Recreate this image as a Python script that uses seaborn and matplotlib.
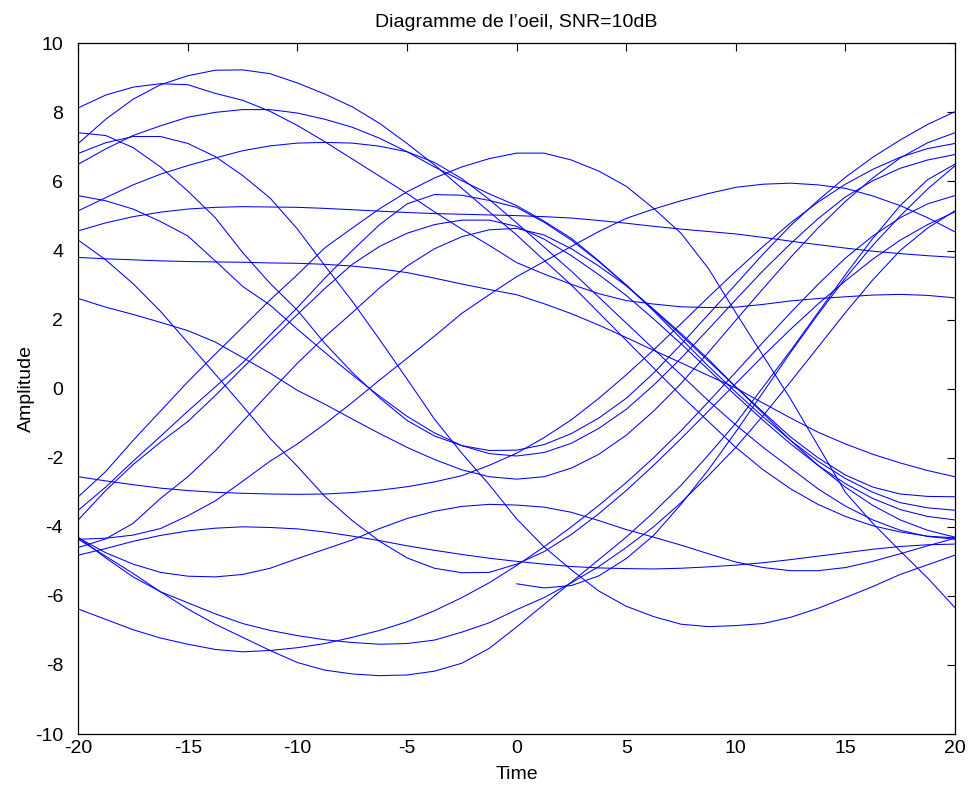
import matplotlib
matplotlib.use("Agg")
import matplotlib.pyplot as plt
import pandas as pd
import seaborn as sns

# sample times shared by the full traces
t = [-20, -18.75, -17.5, -16.25, -15, -13.75, -12.5, -11.25, -10, -8.75, -7.5, -6.25, -5,
     -3.75, -2.5, -1.25, 0, 1.25, 2.5, 3.75, 5, 6.25, 7.5, 8.75, 10, 11.25, 12.5, 13.75,
     15, 16.25, 17.5, 18.75, 20]

# eye diagram traces (amplitude at each time in t)
tr_a = [8.13, 8.50, 8.73, 8.83, 8.80, 8.55, 8.35, 8.03, 7.62, 7.15, 6.65, 6.15, 5.65, 5.12, 4.62, 4.15, 3.65,
        3.32, 3.02, 2.75, 2.55, 2.45, 2.37, 2.35, 2.36, 2.44, 2.54, 2.61, 2.66, 2.71, 2.73, 2.70, 2.63]
tr_b = [7.10, 7.80, 8.38, 8.80, 9.06, 9.22, 9.23, 9.12, 8.85, 8.53, 8.16, 7.68, 7.10, 6.48, 5.80, 5.12, 4.45,
        3.72, 3.00, 2.20, 1.40, 0.60, -0.20, -0.95, -1.70, -2.35, -2.90, -3.35, -3.70, -3.97, -4.15, -4.27, -4.32]
tr_c = [6.50, 6.94, 7.33, 7.61, 7.86, 8.00, 8.08, 8.08, 7.98, 7.80, 7.57, 7.25, 6.86, 6.42, 6.02, 5.64, 5.30,
        4.85, 4.35, 3.70, 3.00, 2.25, 1.45, 0.65, -0.10, -0.82, -1.50, -2.10, -2.60, -3.00, -3.30, -3.45, -3.52]
tr_d = [5.15, 5.53, 5.90, 6.21, 6.46, 6.68, 6.89, 7.03, 7.11, 7.13, 7.11, 7.02, 6.86, 6.55, 6.08, 5.48, 4.80,
        4.10, 3.40, 2.65, 1.90, 1.15, 0.40, -0.35, -1.05, -1.70, -2.30, -2.90, -3.40, -3.80, -4.10, -4.28, -4.36]
tr_e = [6.81, 7.12, 7.30, 7.30, 7.10, 6.72, 6.17, 5.52, 4.62, 3.56, 2.53, 1.42, 0.28, -0.88, -1.87, -2.78, -3.77,
        -4.58, -5.25, -5.86, -6.30, -6.60, -6.82, -6.89, -6.86, -6.80, -6.62, -6.36, -6.05, -5.73, -5.38, -5.10, -4.82]
tr_f = [7.41, 7.33, 6.98, 6.42, 5.72, 4.95, 3.94, 3.05, 2.27, 1.31, 0.47, -0.27, -0.92, -1.37, -1.65, -1.79, -1.78,
        -1.62, -1.30, -0.85, -0.28, 0.45, 1.28, 2.15, 3.02, 3.90, 4.72, 5.45, 6.12, 6.70, 7.20, 7.65, 8.02]
tr_g = [5.59, 5.44, 5.20, 4.84, 4.42, 3.70, 2.96, 2.42, 1.72, 1.05, 0.40, -0.22, -0.80, -1.28, -1.65, -1.88, -1.95,
        -1.85, -1.58, -1.15, -0.60, 0.10, 0.88, 1.72, 2.58, 3.42, 4.20, 4.92, 5.55, 6.02, 6.38, 6.62, 6.78]
tr_h = [4.57, 4.80, 4.98, 5.11, 5.20, 5.25, 5.27, 5.26, 5.25, 5.22, 5.18, 5.14, 5.10, 5.07, 5.05, 5.03, 5.01,
        4.98, 4.94, 4.87, 4.79, 4.70, 4.62, 4.55, 4.48, 4.38, 4.27, 4.17, 4.07, 3.98, 3.91, 3.85, 3.80]
tr_i = [4.30, 3.73, 3.04, 2.24, 1.33, 0.42, -0.50, -1.44, -2.25, -3.12, -3.82, -4.42, -4.90, -5.20, -5.33, -5.32, -5.08,
        -4.72, -4.22, -3.62, -2.95, -2.22, -1.45, -0.65, 0.15, 0.95, 1.72, 2.45, 3.12, 3.75, 4.30, 4.75, 5.12]
tr_j = [3.80, 3.76, 3.73, 3.70, 3.68, 3.67, 3.66, 3.64, 3.63, 3.60, 3.55, 3.47, 3.36, 3.20, 3.03, 2.87, 2.72,
        2.46, 2.17, 1.84, 1.48, 1.11, 0.75, 0.38, 0.02, -0.42, -0.85, -1.26, -1.60, -1.90, -2.15, -2.37, -2.55]
tr_k = [2.61, 2.36, 2.15, 1.92, 1.68, 1.35, 0.90, 0.45, -0.05, -0.45, -0.88, -1.30, -1.70, -2.05, -2.35, -2.55, -2.62,
        -2.55, -2.30, -1.90, -1.35, -0.65, 0.15, 1.05, 1.98, 2.90, 3.80, 4.65, 5.42, 6.10, 6.68, 7.12, 7.41]
tr_l = [-2.55, -2.67, -2.78, -2.88, -2.95, -3.00, -3.03, -3.05, -3.06, -3.05, -3.01, -2.94, -2.84, -2.70, -2.52, -2.22, -1.87,
        -1.42, -0.90, -0.28, 0.40, 1.12, 1.88, 2.65, 3.40, 4.12, 4.80, 5.40, 5.92, 6.35, 6.70, 6.95, 7.10]
tr_m = [-3.13, -2.40, -1.50, -0.65, 0.20, 1.00, 1.78, 2.57, 3.30, 4.08, 4.65, 5.21, 5.70, 6.10, 6.42, 6.66, 6.82,
        6.82, 6.62, 6.30, 5.86, 5.22, 4.50, 3.48, 2.20, 0.95, -0.30, -1.65, -3.00, -3.90, -4.70, -5.48, -6.34]
tr_n = [-3.52, -2.85, -2.10, -1.38, -0.65, 0.05, 0.75, 1.55, 2.35, 3.20, 4.00, 4.75, 5.35, 5.62, 5.60, 5.45, 5.25,
        4.82, 4.30, 3.68, 3.00, 2.28, 1.55, 0.80, 0.05, -0.68, -1.40, -2.00, -2.50, -2.85, -3.05, -3.12, -3.13]
tr_o = [-3.80, -2.95, -2.20, -1.55, -0.95, -0.20, 0.60, 1.38, 2.15, 2.90, 3.60, 4.12, 4.50, 4.75, 4.88, 4.88, 4.70,
        4.33, 3.85, 3.30, 2.70, 2.02, 1.30, 0.55, -0.20, -0.92, -1.60, -2.22, -2.75, -3.18, -3.50, -3.70, -3.80]
tr_p = [-4.60, -4.35, -3.90, -3.18, -2.55, -1.80, -0.95, -0.10, 0.74, 1.50, 2.20, 2.92, 3.55, 4.05, 4.40, 4.60, 4.64,
        4.45, 4.05, 3.55, 2.98, 2.30, 1.60, 0.85, 0.05, -0.72, -1.50, -2.22, -2.85, -3.38, -3.80, -4.10, -4.30]
tr_q = [-4.36, -4.33, -4.24, -4.05, -3.68, -3.25, -2.68, -2.10, -1.60, -1.02, -0.40, 0.25, 0.88, 1.52, 2.18, 2.72, 3.24,
        3.68, 4.12, 4.55, 4.93, 5.20, 5.44, 5.65, 5.83, 5.92, 5.95, 5.90, 5.80, 5.58, 5.30, 4.95, 4.54]
tr_r = [-4.32, -4.75, -5.08, -5.32, -5.43, -5.45, -5.38, -5.20, -4.92, -4.65, -4.38, -4.05, -3.76, -3.55, -3.41, -3.35, -3.37,
        -3.43, -3.58, -3.82, -4.08, -4.30, -4.53, -4.78, -5.02, -5.18, -5.27, -5.27, -5.18, -5.00, -4.78, -4.55, -4.33]
tr_s = [-4.82, -4.63, -4.42, -4.25, -4.12, -4.04, -4.00, -4.02, -4.06, -4.15, -4.27, -4.40, -4.55, -4.68, -4.80, -4.91, -5.00,
        -5.08, -5.15, -5.19, -5.21, -5.22, -5.20, -5.16, -5.11, -5.04, -4.95, -4.85, -4.75, -4.65, -4.57, -4.52, -4.50]
tr_u = [-6.38, -6.68, -6.98, -7.22, -7.40, -7.55, -7.62, -7.58, -7.50, -7.38, -7.20, -7.00, -6.75, -6.43, -6.05, -5.62, -5.12,
        -4.58, -4.00, -3.38, -2.72, -2.00, -1.22, -0.38, 0.48, 1.35, 2.20, 3.02, 3.78, 4.42, 4.95, 5.35, 5.59]
tr_v = [-4.36, -4.85, -5.35, -5.88, -6.38, -6.82, -7.20, -7.58, -7.93, -8.15, -8.26, -8.31, -8.29, -8.18, -7.95, -7.52, -6.90,
        -6.25, -5.60, -4.95, -4.30, -3.58, -2.80, -1.92, -1.00, 0.05, 1.10, 2.20, 3.30, 4.35, 5.30, 6.05, 6.50]
tr_w = [-4.30, -4.90, -5.45, -5.88, -6.20, -6.52, -6.80, -7.00, -7.15, -7.27, -7.35, -7.40, -7.38, -7.28, -7.05, -6.78, -6.40,
        -6.05, -5.62, -5.15, -4.60, -4.00, -3.30, -2.52, -1.70, -0.78, 0.20, 1.20, 2.20, 3.15, 4.00, 4.65, 5.15]

# the first trace only starts at t=0
t_first = [0, 1.25, 2.5, 3.75, 5, 6.25, 7.5, 8.75, 10, 11.25, 12.5, 13.75, 15, 16.25, 17.5, 18.75, 20]
tr_first = [-5.65, -5.77, -5.70, -5.42, -4.92, -4.25, -3.35, -2.35, -1.25, -0.10, 1.05, 2.15, 3.20, 4.15, 5.00, 5.78, 6.45]

traces = [tr_a, tr_b, tr_c, tr_d, tr_e, tr_f, tr_g, tr_h, tr_i, tr_j, tr_k, tr_l,
          tr_m, tr_n, tr_o, tr_p, tr_q, tr_r, tr_s, tr_u, tr_v, tr_w]

rows = []
for k, tr in enumerate(traces):
    for x, y in zip(t, tr):
        rows.append((k, x, y))
for x, y in zip(t_first, tr_first):
    rows.append((len(traces), x, y))
df = pd.DataFrame(rows, columns=["trace", "Time", "Amplitude"])

sns.set_style("white")
plt.rcParams["font.family"] = ["Liberation Sans", "DejaVu Sans"]
plt.rcParams["axes.unicode_minus"] = False
plt.rcParams["text.color"] = "black"
plt.rcParams["axes.labelcolor"] = "black"

fig = plt.figure(figsize=(9.7, 7.87), dpi=100)
ax = fig.add_axes([0.0807, 0.0673, 0.9038, 0.8777])

sns.lineplot(data=df, x="Time", y="Amplitude", units="trace", estimator=None,
             color="#0000ff", linewidth=0.75, sort=False, ax=ax)

ax.set_xlim(-20, 20)
ax.set_ylim(-10, 10)
ax.set_xticks(range(-20, 21, 5))
ax.set_yticks(range(-10, 11, 2))
ax.tick_params(direction="in", length=6, width=0.8, top=True, right=True,
               labelsize=14, colors="black")
ax.tick_params(axis="x", pad=4)
ax.tick_params(axis="y", pad=11)
for s in ax.spines.values():
    s.set_color("black")
    s.set_linewidth(0.9)
ax.set_title("Diagramme de l\u2019oeil, SNR=10dB", fontsize=14, pad=12, color="black")
ax.set_xlabel("Time", fontsize=14, labelpad=7, color="black")
ax.set_ylabel("Amplitude", fontsize=14, labelpad=0, color="black")

fig.savefig("out.png", dpi=100)
